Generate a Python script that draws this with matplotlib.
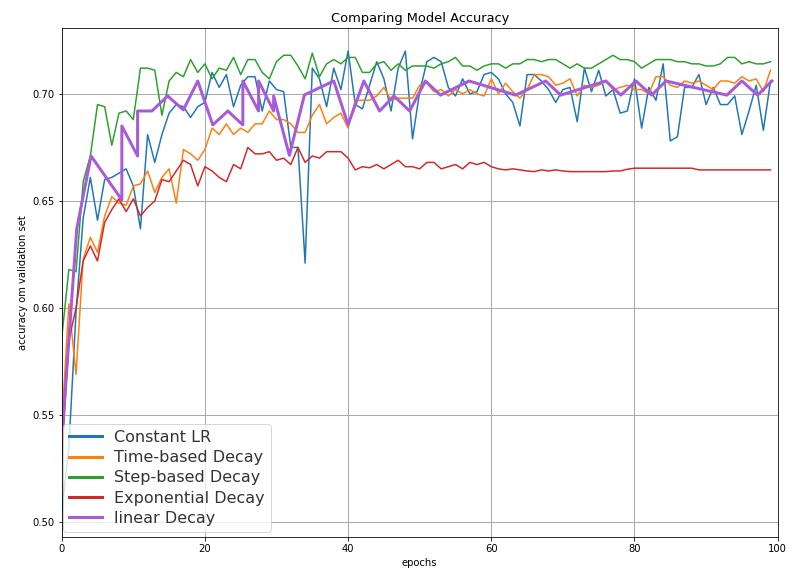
import matplotlib
matplotlib.use("Agg")
import matplotlib.pyplot as plt
import numpy as np

epochs = list(range(100))

constant_lr = [0.505, 0.535, 0.598, 0.642, 0.661, 0.641, 0.660, 0.661, 0.663, 0.665,
               0.657, 0.637, 0.681, 0.668, 0.681, 0.691, 0.695, 0.694, 0.689, 0.694,
               0.696, 0.710, 0.703, 0.709, 0.694, 0.704, 0.708, 0.708, 0.692, 0.706,
               0.702, 0.701, 0.675, 0.675, 0.621, 0.712, 0.707, 0.694, 0.712, 0.702,
               0.720, 0.695, 0.693, 0.704, 0.715, 0.707, 0.692, 0.712, 0.720, 0.679,
               0.701, 0.715, 0.717, 0.715, 0.703, 0.699, 0.707, 0.700, 0.701, 0.709,
               0.710, 0.707, 0.700, 0.696, 0.685, 0.709, 0.709, 0.706, 0.702, 0.696,
               0.702, 0.703, 0.687, 0.712, 0.701, 0.711, 0.699, 0.702, 0.691, 0.692,
               0.707, 0.684, 0.703, 0.697, 0.714, 0.678, 0.680, 0.703, 0.703, 0.709,
               0.695, 0.703, 0.695, 0.695, 0.699, 0.681, 0.692, 0.704, 0.683, 0.706]

time_based = [0.545, 0.602, 0.569, 0.623, 0.633, 0.626, 0.643, 0.652, 0.649, 0.648,
              0.657, 0.658, 0.664, 0.654, 0.661, 0.665, 0.649, 0.674, 0.672, 0.669,
              0.674, 0.684, 0.681, 0.686, 0.681, 0.684, 0.682, 0.686, 0.686, 0.692,
              0.688, 0.688, 0.686, 0.682, 0.682, 0.690, 0.695, 0.686, 0.689, 0.691,
              0.684, 0.697, 0.697, 0.697, 0.699, 0.703, 0.697, 0.698, 0.698, 0.698,
              0.704, 0.705, 0.701, 0.702, 0.699, 0.702, 0.700, 0.702, 0.700, 0.699,
              0.707, 0.700, 0.705, 0.701, 0.698, 0.702, 0.709, 0.709, 0.708, 0.704,
              0.705, 0.707, 0.699, 0.704, 0.703, 0.704, 0.706, 0.702, 0.703, 0.704,
              0.702, 0.702, 0.700, 0.708, 0.708, 0.704, 0.703, 0.706, 0.705, 0.706,
              0.704, 0.702, 0.706, 0.706, 0.705, 0.708, 0.706, 0.707, 0.701, 0.711]

step_based = [0.586, 0.618, 0.617, 0.659, 0.671, 0.695, 0.694, 0.676, 0.691, 0.692,
              0.688, 0.712, 0.712, 0.711, 0.690, 0.706, 0.710, 0.708, 0.716, 0.710,
              0.714, 0.707, 0.712, 0.711, 0.717, 0.709, 0.716, 0.716, 0.710, 0.707,
              0.715, 0.718, 0.718, 0.713, 0.707, 0.719, 0.708, 0.714, 0.716, 0.714,
              0.717, 0.717, 0.710, 0.710, 0.714, 0.715, 0.711, 0.714, 0.711, 0.713,
              0.713, 0.713, 0.712, 0.714, 0.715, 0.717, 0.713, 0.713, 0.711, 0.713,
              0.714, 0.714, 0.712, 0.714, 0.714, 0.716, 0.716, 0.715, 0.716, 0.716,
              0.714, 0.712, 0.714, 0.712, 0.712, 0.714, 0.716, 0.718, 0.716, 0.716,
              0.715, 0.712, 0.714, 0.716, 0.716, 0.716, 0.715, 0.715, 0.714, 0.714,
              0.713, 0.713, 0.714, 0.717, 0.717, 0.714, 0.715, 0.714, 0.714, 0.715]

exponential = [0.530, 0.585, 0.600, 0.622, 0.629, 0.622, 0.640, 0.646, 0.651, 0.645,
               0.651, 0.643, 0.647, 0.650, 0.660, 0.659, 0.664, 0.669, 0.667, 0.657,
               0.666, 0.664, 0.661, 0.659, 0.667, 0.665, 0.675, 0.672, 0.672, 0.673,
               0.669, 0.670, 0.667, 0.675, 0.668, 0.671, 0.670, 0.673, 0.673, 0.673,
               0.670, 0.6645, 0.666, 0.6655, 0.667, 0.665, 0.667, 0.669, 0.666, 0.666,
               0.665, 0.668, 0.668, 0.665, 0.666, 0.667, 0.665, 0.668, 0.667, 0.668,
               0.666, 0.665, 0.6645, 0.665, 0.6645, 0.664, 0.6637, 0.6645, 0.664, 0.6645,
               0.664, 0.6637, 0.6637, 0.6637, 0.6637, 0.6637, 0.6637, 0.664, 0.664, 0.6648,
               0.6653, 0.6653, 0.6653, 0.6653, 0.6653, 0.6653, 0.6653, 0.6653, 0.6653, 0.6645,
               0.6645, 0.6645, 0.6645, 0.6645, 0.6645, 0.6645, 0.6645, 0.6645, 0.6645, 0.6645]

linear_x = [0, 2.1, 4.1, 8.4, 8.4, 10.6, 10.6, 12.6, 14.8, 17.0, 19.0, 21.1, 23.2,
            25.3, 25.3, 27.5, 27.5, 29.6, 29.6, 31.8, 33.9, 38.0, 40.0, 42.2, 44.4,
            46.4, 48.6, 50.8, 52.9, 56.9, 63.4, 67.6, 69.7, 76.0, 78.1, 80.2, 82.4,
            84.4, 92.9, 95.0, 97.2, 99.2]
linear_decay = [0.538, 0.637, 0.671, 0.6505, 0.685, 0.671, 0.692, 0.692, 0.699, 0.6925,
                0.706, 0.6855, 0.692, 0.6855, 0.706, 0.692, 0.706, 0.692, 0.699, 0.6713,
                0.6995, 0.706, 0.6856, 0.706, 0.692, 0.699, 0.692, 0.706, 0.6994, 0.706,
                0.6994, 0.706, 0.6994, 0.706, 0.6994, 0.706, 0.6994, 0.706, 0.6994, 0.706,
                0.6994, 0.706]

labels = ["Constant LR", "Time-based Decay", "Step-based Decay",
          "Exponential Decay", "linear Decay"]
colors = ["#1f77b4", "#ff7f0e", "#2ca02c", "#d62728", "#a85bd8"]

fig = plt.figure(figsize=(788 / 72, 576 / 72), dpi=72)
ax = fig.add_axes([0.0783, 0.0682, 0.9086, 0.8827])

series = [constant_lr, time_based, step_based, exponential]
for ys, lab, c in zip(series, labels[:4], colors[:4]):
    ax.plot(epochs, ys, color=c, lw=1.5, label=lab)
ax.plot(linear_x, linear_decay, color=colors[4], lw=3, label=labels[4])

ax.set_xlim(0, 100)
ax.set_ylim(0.4933, 0.7306)
ax.set_xticks([0, 20, 40, 60, 80, 100])
ax.set_yticks([0.50, 0.55, 0.60, 0.65, 0.70])
ax.set_yticklabels(["0.50", "0.55", "0.60", "0.65", "0.70"])
ax.tick_params(labelsize=10)
ax.grid(True, color="#aaaaaa", lw=1.0)
ax.set_title("Comparing Model Accuracy", fontsize=13)
ax.set_xlabel("epochs", fontsize=10)
ax.set_ylabel("accuracy om validation set", fontsize=10)

leg = ax.legend(loc="lower left", bbox_to_anchor=(0.002, 0.01), borderaxespad=0,
                fontsize=16, labelspacing=0.33, handlelength=2.1, handletextpad=0.75,
                borderpad=0.35)
for line in leg.get_lines():
    line.set_linewidth(3)
for txt in leg.get_texts():
    txt.set_color("#333333")

fig.savefig("out.png", dpi=72)
